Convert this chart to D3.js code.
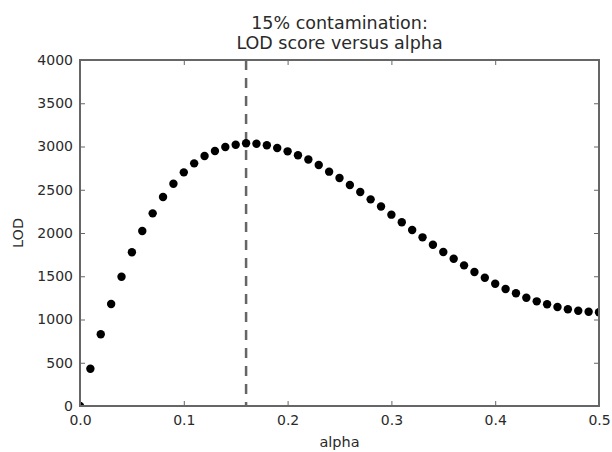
<!DOCTYPE html>
<html>
<head>
<meta charset="utf-8">
<script src="https://cdn.jsdelivr.net/npm/d3@7"></script>
<style>
  body { margin: 0; background: #fff; }
  svg text { font-family: "DejaVu Sans", sans-serif; fill: #2a2a2a; }
</style>
</head>
<body>
<svg id="chart" width="612" height="452"></svg>
<script>
// alpha values 0.00 .. 0.50
const alphas = d3.range(0, 51).map(i => i / 100);
// LOD
const lod = [0, 430, 830, 1180, 1495, 1777, 2023, 2227, 2416, 2570,
  2701, 2805, 2890, 2948, 2994, 3021, 3037, 3032, 3014, 2982,
  2944, 2898, 2850, 2786, 2709, 2636, 2555, 2474, 2389, 2307,
  2212, 2124, 2035, 1950, 1865, 1780, 1703, 1626, 1549, 1483,
  1414, 1352, 1303, 1252, 1210, 1176, 1144, 1118, 1102, 1090, 1083];
const bestAlpha = 0.16;
const xTicks = [0, 0.1, 0.2, 0.3, 0.4, 0.5];
const yTicks = [0, 500, 1000, 1500, 2000, 2500, 3000, 3500, 4000];
const titleLines = ["15% contamination:", "LOD score versus alpha"];

const margin = { top: 60, right: 13, bottom: 46, left: 80 };
const width = 612 - margin.left - margin.right;
const height = 452 - margin.top - margin.bottom;

const svg = d3.select("#chart");
const g = svg.append("g")
    .attr("transform", `translate(${margin.left}, ${margin.top})`);

const x = d3.scaleLinear().domain([0, 0.5]).range([0, width]);
const y = d3.scaleLinear().domain([0, 4000]).range([height, 0]);

const axisColor = "#666";

// clip marks to the axes box, like matplotlib does
g.append("clipPath").attr("id", "plotclip")
    .append("rect").attr("width", width).attr("height", height);

// axes (ticks pointing inward, matplotlib classic style)
const styleAxis = sel => {
    sel.select(".domain").remove();
    sel.selectAll(".tick line").attr("stroke", axisColor);
    sel.selectAll(".tick text").attr("font-size", 14).attr("fill", "#333");
};

g.append("g")
    .attr("transform", `translate(0, ${height})`)
    .call(d3.axisBottom(x).tickValues(xTicks).tickFormat(d3.format(".1f"))
        .tickSizeInner(-5).tickSizeOuter(0).tickPadding(9))
    .call(styleAxis);

g.append("g")
    .call(d3.axisTop(x).tickValues(xTicks).tickFormat("")
        .tickSizeInner(-5).tickSizeOuter(0))
    .call(styleAxis);

g.append("g")
    .call(d3.axisLeft(y).tickValues(yTicks).tickFormat(d3.format("d"))
        .tickSizeInner(-5).tickSizeOuter(0).tickPadding(7))
    .call(styleAxis);

g.append("g")
    .attr("transform", `translate(${width}, 0)`)
    .call(d3.axisRight(y).tickValues(yTicks).tickFormat("")
        .tickSizeInner(-5).tickSizeOuter(0))
    .call(styleAxis);

// dashed line at best alpha
g.append("line")
    .attr("x1", x(bestAlpha)).attr("x2", x(bestAlpha))
    .attr("y1", y(4000)).attr("y2", y(0))
    .attr("stroke", "#666")
    .attr("stroke-width", 2.5)
    .attr("stroke-dasharray", "10,8");

// points
g.append("g")
    .attr("clip-path", "url(#plotclip)")
    .selectAll("circle")
    .data(alphas.map((a, i) => ({ a, v: lod[i] })))
    .join("circle")
    .attr("cx", d => x(d.a))
    .attr("cy", d => y(d.v))
    .attr("r", 4.2)
    .attr("fill", "#000");

// frame
g.append("rect")
    .attr("width", width)
    .attr("height", height)
    .attr("fill", "none")
    .attr("stroke", axisColor)
    .attr("stroke-width", 2);

// title
svg.append("text")
    .attr("text-anchor", "middle")
    .attr("font-size", 17.5)
    .selectAll("tspan")
    .data(titleLines)
    .join("tspan")
    .attr("x", margin.left + width / 2)
    .attr("y", (d, i) => 29 + i * 20)
    .text(d => d);

// axis labels
svg.append("text")
    .attr("x", margin.left + width / 2)
    .attr("y", 447)
    .attr("text-anchor", "middle")
    .attr("font-size", 14.5)
    .text("alpha");

svg.append("text")
    .attr("transform", `translate(23, ${margin.top + height / 2}) rotate(-90)`)
    .attr("text-anchor", "middle")
    .attr("font-size", 14.5)
    .text("LOD");
</script>
</body>
</html>
